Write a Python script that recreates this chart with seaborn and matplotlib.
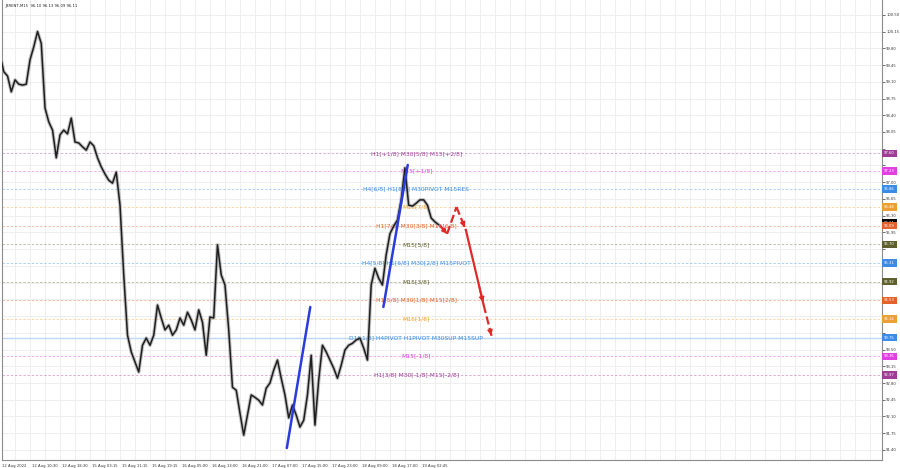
import matplotlib
matplotlib.use("Agg")
import numpy as np
import pandas as pd
import matplotlib.pyplot as plt
import seaborn as sns

# hourly closes (one value every 4 bars)
closes = [99.66, 99.31, 99.22, 98.89, 99.14, 99.05, 99.03, 99.05, 99.56, 99.83,
          100.15, 99.90, 98.55, 98.26, 98.09, 97.51, 97.99, 98.09, 98.01, 98.34,
          97.84, 97.82, 97.74, 97.67, 97.84, 97.76, 97.51, 97.32, 97.17, 97.04,
          96.98, 97.21, 96.52, 95.06, 93.80, 93.45, 93.24, 93.03, 93.59, 93.74,
          93.59, 93.80, 94.43, 94.16, 93.91, 94.01, 93.80, 93.91, 94.16, 94.01,
          94.28, 94.12, 93.91, 94.33, 94.07, 93.38, 94.18, 94.16, 95.69, 95.06,
          94.85, 93.91, 92.71, 92.65, 92.17, 91.71, 92.13, 92.55, 92.50, 92.44,
          92.34, 92.69, 92.80, 93.07, 93.28, 92.90, 92.55, 92.07, 92.34, 92.13,
          91.88, 92.02, 92.55, 93.38, 91.92, 92.86, 93.59, 93.45, 93.28, 93.11,
          92.90, 93.17, 93.49, 93.59, 93.63, 93.70, 93.74, 93.53, 93.28, 94.85,
          95.20, 94.99, 94.85, 95.48, 95.92, 96.08, 96.21, 96.63, 97.30, 96.52,
          96.50, 96.56, 96.63, 96.63, 96.52, 96.25, 96.17, 96.11]
bars_per_point = 4

time_labels = ["12 Aug 2022", "12 Aug 10:30", "12 Aug 18:30", "15 Aug 03:15",
               "15 Aug 11:15", "15 Aug 19:15", "16 Aug 05:00", "16 Aug 13:00",
               "16 Aug 21:00", "17 Aug 07:00", "17 Aug 15:00", "17 Aug 23:00",
               "18 Aug 09:00", "18 Aug 17:00", "19 Aug 02:45"]
bars_per_label = 32

# murrey math levels
level_prices = [97.60, 97.23, 96.86, 96.48, 96.09, 95.70, 95.31,
                94.92, 94.53, 94.14, 93.75, 93.36, 92.97]
level_names = ["H1[+1/8] M30[5/8] M15[+2/8]",
               "M15[+1/8]",
               "H4[6/8] H1[8/8] M30PIVOT M15RES",
               "M15[7/8]",
               "H1[7/8] M30[3/8] M15[6/8]",
               "M15[5/8]",
               "H4[5/8] H1[6/8] M30[2/8] M15PIVOT",
               "M15[3/8]",
               "H1[5/8] M30[1/8] M15[2/8]",
               "M15[1/8]",
               "D1[-1/8] H4PIVOT H1PIVOT M30SUP M15SUP",
               "M15[-1/8]",
               "H1[3/8] M30[-1/8] M15[-2/8]"]
level_colors = ["#a03c96", "#e040e0", "#3c8ce6", "#eda032", "#e2622c", "#60602e",
                "#3c8ce6", "#60602e", "#e2622c", "#eda032", "#3c8ce6", "#e040e0",
                "#a03c96"]
level_styles = ["--"] * 10 + ["-"] + ["--"] * 2
level_text_bar = 444

current_price = 96.11
header = "_BRENT,M15  96.10 96.13 96.09 96.11"

# blue trend lines (bar, price)
trend_a_bars = [306, 331]
trend_a_prices = [91.44, 94.39]
trend_b_bars = [409, 435]
trend_b_prices = [94.39, 97.36]

# red forecast path
fc_bars = [469, 477, 487, 497, 516, 525]
fc_prices = [96.10, 95.92, 96.48, 96.00, 94.43, 93.74]
fc_styles = ["--", "--", "--", "-", "--"]
fc_heads = [True, False, True, True, True]

df = pd.DataFrame({"bar": np.arange(len(closes)) * bars_per_point, "close": closes})

sns.set_theme(style="white")
plt.rcParams['font.family'] = ['DejaVu Sans']

fig = plt.figure(figsize=(9, 4.68), dpi=100)
ax = fig.add_axes([2 / 900, 8 / 468, 880 / 900, 460 / 468])

# grid
yticks = np.round(np.arange(91.40, 100.51, 0.35), 2)
ax.set_yticks(yticks)
ax.set_xticks([bars_per_label * i + 2.5 for i in range(len(time_labels))])
ax.set_xticks(np.arange(16, 941, 16), minor=True)
ax.grid(which="minor", axis="x", color="#ececec", lw=0.6)
ax.grid(which="major", axis="y", color="#ececec", lw=0.6)

# level lines + texts
for p, name, c, ls in zip(level_prices, level_names, level_colors, level_styles):
    if ls == "-":
        ax.axhline(p, color="#bcd8f4", lw=1.0, zorder=1)
    else:
        ax.axhline(p, color=c, lw=0.6, ls=(0, (3, 2)), alpha=0.45, zorder=1)
    ax.text(level_text_bar, p, name, fontsize=4.3, color=c, ha="center", va="center", zorder=2)

# price (gray underlay mimics the candle wicks)
sns.lineplot(data=df, x="bar", y="close", ax=ax, color="#9a9a9a", lw=2.6, alpha=0.6, zorder=3)
sns.lineplot(data=df, x="bar", y="close", ax=ax, color="#1e1e1e", lw=1.1, zorder=4)

# trend lines
ax.plot(trend_a_bars, trend_a_prices, color="#2a3ddc", lw=1.8, zorder=5)
ax.plot(trend_b_bars, trend_b_prices, color="#2a3ddc", lw=1.8, zorder=5)

# forecast arrows
red = "#e02a2a"
for i in range(len(fc_styles)):
    x0, x1 = fc_bars[i], fc_bars[i + 1]
    y0, y1 = fc_prices[i], fc_prices[i + 1]
    ax.plot([x0, x1], [y0, y1], color=red, lw=1.6, ls=fc_styles[i], zorder=6)
    if fc_heads[i]:
        ax.annotate("", xy=(x1, y1), xytext=(x1 - (x1 - x0) * 0.3, y1 - (y1 - y0) * 0.3),
                    arrowprops=dict(arrowstyle="-|>", color=red, lw=1.2, mutation_scale=7),
                    zorder=6)

ax.set_xlim(2.1, 941)
ax.set_ylim(91.19, 100.81)

ax.yaxis.tick_right()
ax.tick_params(axis="both", which="major", labelsize=2.7, length=2, width=0.5, pad=1,
               colors="#333333", direction="out")
ax.tick_params(axis="x", which="minor", length=0)
# tick labels hidden behind the coloured price boxes
ylabels = []
for v in yticks:
    near = min(abs(v - p) for p in level_prices + [current_price])
    ylabels.append("" if near < 0.12 else f"{v:.2f}")
ax.set_yticklabels(ylabels)
ax.set_xticklabels(time_labels, ha="left")
ax.set_xlabel("")
ax.set_ylabel("")
for s in ["left", "right", "bottom"]:
    ax.spines[s].set_color("#8c8c8c")
    ax.spines[s].set_linewidth(0.8)
ax.spines["top"].set_visible(False)

# price boxes on the right axis
for p, c in zip(level_prices, level_colors):
    if abs(p - current_price) < 0.05:
        ax.annotate(f"{current_price:.2f}", xy=(1, current_price + 0.04),
                    xycoords=("axes fraction", "data"), xytext=(1.5, 0),
                    textcoords="offset points", fontsize=2.7, color="white",
                    ha="left", va="center", annotation_clip=False, zorder=7,
                    bbox=dict(boxstyle="square,pad=0.45", fc="black", ec="none"))
    ax.annotate(f"{p:.2f}", xy=(1, p), xycoords=("axes fraction", "data"),
                xytext=(1.5, 0), textcoords="offset points", fontsize=2.7,
                color="white", ha="left", va="center", annotation_clip=False, zorder=8,
                bbox=dict(boxstyle="square,pad=0.45", fc=c, ec="none"))

fig.text(4 / 900, 1 - 5 / 468, header, fontsize=2.7, va="center", ha="left", color="#222222")

fig.savefig("out.png", dpi=100)
